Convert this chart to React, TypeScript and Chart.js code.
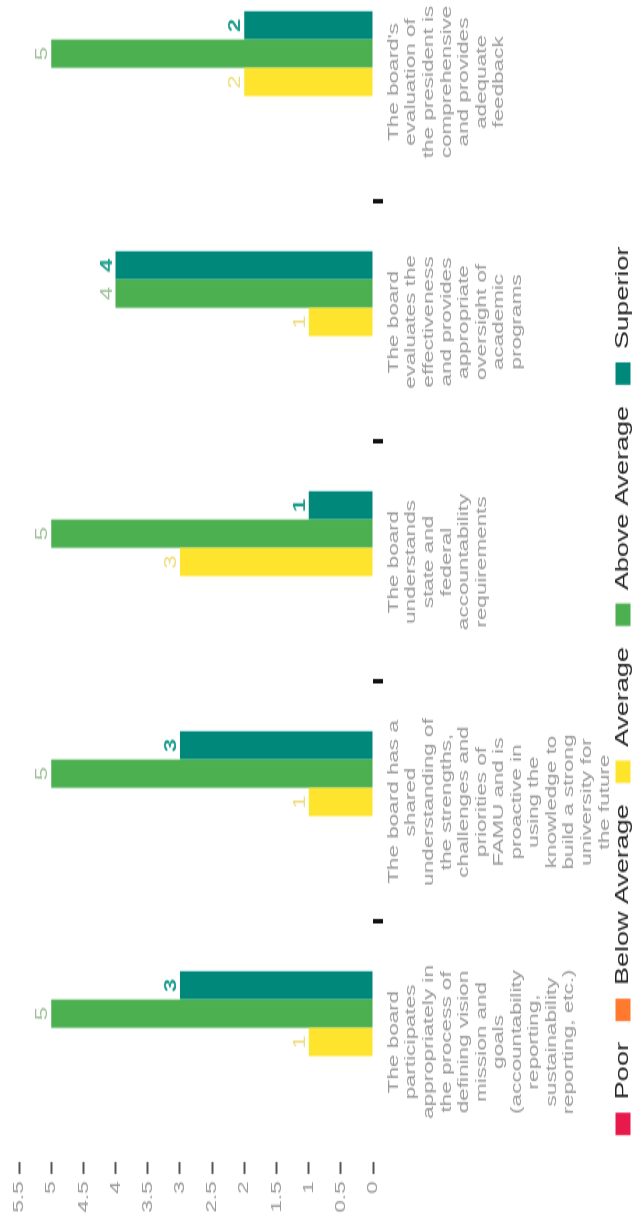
import React, { useEffect, useRef } from "react";
import { Chart, registerables } from "chart.js";

Chart.register(...registerables);

// ---------- data ----------
const categoryLabels: string[][] = [
  ["The board", "participates", "appropriately in", "the process of", "defining vision", "mission and", "goals", "(accountability", "reporting,", "sustainability", "reporting, etc.)"],
  ["The board has a", "shared", "understanding of", "the strengths,", "challenges and", "priorities of", "FAMU and is", "proactive in", "using the", "knowledge to", "build a strong", "university for", "the future"],
  ["The board", "understands", "state and", "federal", "accountability", "requirements"],
  ["The board", "evaluates the", "effectiveness", "and provides", "appropriate", "oversight of", "academic", "programs"],
  ["The board's", "evaluation of", "the president is", "comprehensive", "and provides", "adequate", "feedback"],
];

const seriesNames = ["Poor", "Below Average", "Average", "Above Average", "Superior"];
const poor = [0, 0, 0, 0, 0];
const belowAverage = [0, 0, 0, 0, 0];
const average = [1, 1, 3, 1, 2];
const aboveAverage = [5, 5, 5, 4, 5];
const superior = [3, 3, 1, 4, 2];

const valueMin = 0;
const valueMax = 5.5;
const valueStep = 0.5;

// ---------- styles ----------
const barColors = ["#E8194B", "#FF7A2F", "#FFE42E", "#4CAF50", "#00897B"];
const labelColors = ["#E8194B", "#FF7A2F", "#EEDC7A", "#9CBF99", "#1F9E8E"];
const labelBold = [false, false, false, false, true];

const STRETCH = 1.5;
const Y_AXIS_W = 172;
const PLOT_W = 800;
const CANVAS_W = Math.round(Y_AXIS_W + PLOT_W);
const CANVAS_H = 642;
const OFFSET_Y = 1162 + STRETCH * Y_AXIS_W;
const CHART_TOP = 19;
const CHART_BOTTOM = 373;

const FONT = "'Liberation Sans', Arial, Helvetica, sans-serif";

const valueLabels = {
  id: "valueLabels",
  afterLayout(chart: any) {
    // let the multi-line category labels draw past the shortened axis box
    const x = chart.scales.x;
    if (x) x.bottom = chart.height;
  },
  afterDatasetsDraw(chart: any) {
    const { ctx } = chart;
    chart.data.datasets.forEach((ds: any, i: number) => {
      const meta = chart.getDatasetMeta(i);
      if (meta.hidden) return;
      meta.data.forEach((bar: any, j: number) => {
        const v = ds.data[j];
        if (!v) return;
        ctx.save();
        ctx.font = `${labelBold[i] ? "bold " : ""}16px ${FONT}`;
        ctx.fillStyle = labelColors[i];
        ctx.textAlign = "center";
        ctx.textBaseline = "alphabetic";
        ctx.fillText(String(v), bar.x, bar.y - 4);
        ctx.restore();
      });
    });
  },
};

export default function App() {
  const ref = useRef<HTMLCanvasElement>(null);

  useEffect(() => {
    if (!ref.current) return;
    Chart.defaults.font.family = FONT;
    const values = [poor, belowAverage, average, aboveAverage, superior];
    const chart = new Chart(ref.current, {
      type: "bar",
      data: {
        labels: categoryLabels,
        datasets: seriesNames.map((name, i) => ({
          label: name,
          data: values[i],
          backgroundColor: barColors[i],
          borderWidth: 0,
          barPercentage: 1,
          categoryPercentage: 0.59,
        })),
      },
      options: {
        responsive: false,
        animation: false,
        devicePixelRatio: 1,
        layout: { padding: { top: CHART_TOP, left: 0, right: 0, bottom: 0 } },
        plugins: {
          legend: {
            position: "bottom",
            labels: {
              boxWidth: 15,
              boxHeight: 15,
              padding: 14,
              color: "#222",
              font: { size: 18 },
            },
          },
          tooltip: { enabled: false },
        },
        scales: {
          x: {
            grid: {
              display: true,
              drawOnChartArea: false,
              drawTicks: true,
              tickLength: 10,
              tickWidth: 3,
              offset: true,
              tickColor: (c: any) =>
                c.index === undefined || c.index === 0 ? "rgba(0,0,0,0)" : "#111",
            },
            border: { display: false },
            ticks: {
              color: "#999",
              font: { size: 15, lineHeight: 1.17 },
              padding: 2,
              maxRotation: 0,
              minRotation: 0,
              autoSkip: false,
            },
            afterFit: (s: any) => {
              s.height = s.chart.height - (s.chart.legend ? s.chart.legend.height : 0) - CHART_BOTTOM;
            },
          },
          y: {
            min: valueMin,
            max: valueMax,
            ticks: {
              stepSize: valueStep,
              color: "#999",
              font: { size: 15 },
              padding: 5,
              callback: (v: any) => String(v),
            },
            grid: {
              display: true,
              drawOnChartArea: false,
              drawTicks: true,
              tickLength: 8,
              tickWidth: 2,
              tickColor: "#555",
            },
            border: { display: false },
            afterFit: (s: any) => {
              s.width = Y_AXIS_W;
            },
          },
        },
      },
      plugins: [valueLabels],
    } as any);
    return () => chart.destroy();
  }, []);

  return (
    <div
      style={{
        position: "fixed",
        left: 0,
        top: 0,
        width: 636,
        height: 1228,
        overflow: "hidden",
        background: "#fff",
      }}
    >
      <canvas
        ref={ref}
        width={CANVAS_W}
        height={CANVAS_H}
        style={{
          position: "absolute",
          left: 0,
          top: 0,
          width: CANVAS_W,
          height: CANVAS_H,
          transformOrigin: "0 0",
          transform: `translate(0px, ${OFFSET_Y}px) rotate(-90deg) scale(${STRETCH}, 1)`,
        }}
      />
    </div>
  );
}
